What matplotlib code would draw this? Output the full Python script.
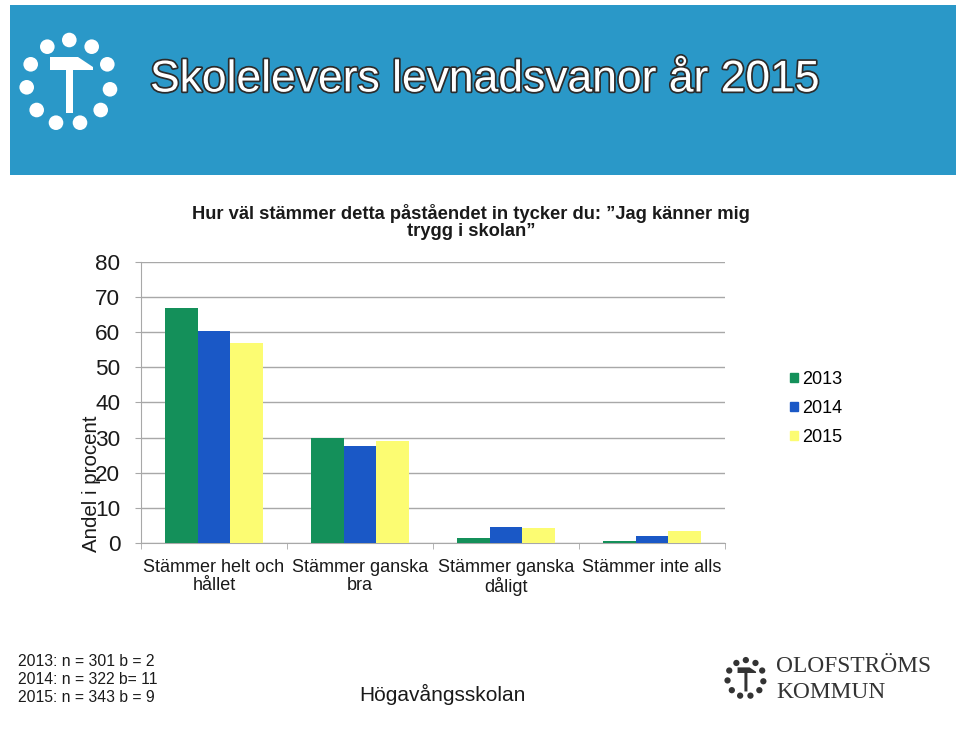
import matplotlib
matplotlib.use('Agg')
from matplotlib import pyplot as plt
from matplotlib.patches import Rectangle, Circle, Polygon, Patch
import matplotlib.patheffects as pe
import numpy as np

plt.rcParams['font.family'] = ['Liberation Sans', 'DejaVu Sans']

categories = ['Stämmer helt och\nhållet', 'Stämmer ganska\nbra',
              'Stämmer ganska\ndåligt', 'Stämmer inte alls']
years = ['2013', '2014', '2015']
y2013 = [66.8, 29.9, 1.6, 0.7]
y2014 = [60.3, 27.5, 4.6, 2.2]
y2015 = [56.8, 29.2, 4.3, 3.4]
y_ticks = [0, 10, 20, 30, 40, 50, 60, 70, 80]
notes = ['2013: n = 301 b = 2', '2014: n = 322 b= 11', '2015: n = 343 b = 9']

bar_colors = ['#14905a', '#1a58c6', '#fcfc72']
grid_col = '#a8a8a8'

# logo: dot offsets and hammer outline relative to centre (header scale)
logo_dots = [(0.8, -44), (-21.2, -37.3), (23.2, -37.3), (-37.8, -19.7), (38.8, -19.7),
             (-41.8, 3.3), (41.5, 5.3), (-31.8, 26), (32.2, 26), (-12.5, 38.7), (11.5, 38.7)]
hammer = [(-18.5, -27), (9.5, -27), (24.5, -17), (24.5, -14), (4.5, -14), (4.5, 29),
          (-2.5, 29), (-2.5, -14), (-18.5, -14)]


def draw_logo(ax, cx, cy, s, col):
    for dx, dy in logo_dots:
        ax.add_patch(Circle((cx + dx * s, cy + dy * s), 7.3 * s, color=col, lw=0))
    ax.add_patch(Polygon([(cx + dx * s, cy + dy * s) for dx, dy in hammer],
                         closed=True, color=col, lw=0))


fig = plt.figure(figsize=(9.6, 7.47), dpi=100)

# overlay in pixel coords for page decoration
bg = fig.add_axes([0, 0, 1, 1])
bg.set_xlim(0, 960)
bg.set_ylim(747, 0)
bg.axis('off')
bg.add_patch(Rectangle((10, 5), 946, 170, color='#2a98c8', lw=0))
draw_logo(bg, 68.5, 84, 1.0, 'white')
bg.text(150, 80, 'Skolelevers levnadsvanor år 2015', fontsize=32, color='white',
        ha='left', va='center',
        path_effects=[pe.withStroke(linewidth=2.5, foreground='#2b2b2b')])

bg.text(471, 222, 'Hur väl stämmer detta påståendet in tycker du: ”Jag känner mig\ntrygg i skolan”',
        fontsize=13.2, fontweight='bold', ha='center', va='center', color='#1a1a1a',
        linespacing=1.05)

for i, t in enumerate(notes):
    bg.text(18, 661 + i * 18, t, fontsize=11.3, ha='left', va='center', color='#1a1a1a')
bg.text(442, 694, 'Högavångsskolan', fontsize=15, ha='center', va='center', color='#1a1a1a')
draw_logo(bg, 745.5, 679, 0.43, '#333333')
bg.text(776, 666, 'OLOFSTRÖMS', fontsize=16.8, family='Liberation Serif',
        ha='left', va='center', color='#333333')
bg.text(776, 692, 'KOMMUN', fontsize=16.8, family='Liberation Serif',
        ha='left', va='center', color='#333333')

# chart
ax = fig.add_axes([141 / 960, 1 - 543.3 / 747, 584 / 960, 281.6 / 747])
ax.patch.set_alpha(0)
x = np.arange(len(categories))
w = 1 / 4.5
for k, (vals, col) in enumerate(zip([y2013, y2014, y2015], bar_colors)):
    ax.bar(x + (k - 1) * w, vals, w, color=col, label=years[k], zorder=3)

ax.set_xlim(-0.5, len(categories) - 0.5)
ax.set_ylim(0, 80)
ax.set_yticks(y_ticks)
ax.tick_params(axis='y', labelsize=16.2, length=4.3, color=grid_col, pad=10.5,
               labelcolor='#1a1a1a')
ax.yaxis.grid(True, color=grid_col, lw=1, zorder=0)
ax.set_xticks(x)
ax.set_xticklabels(categories, fontsize=13, linespacing=1.1)
ax.tick_params(axis='x', which='major', length=0, pad=11, labelcolor='#1a1a1a')
ax.set_xticks(np.arange(-0.5, len(categories)), minor=True)
ax.tick_params(axis='x', which='minor', length=4.3, color=grid_col)
for sp in ['top', 'right']:
    ax.spines[sp].set_visible(False)
for sp in ['left', 'bottom']:
    ax.spines[sp].set_color(grid_col)
ax.set_ylabel('Andel i procent', fontsize=14.8, color='#1a1a1a')
ax.yaxis.set_label_coords(-0.069, 0.212)

handles = [Patch(color=c) for c in bar_colors]
fig.legend(handles, years, loc='upper left', bbox_to_anchor=(790 / 960, 1 - 371 / 747),
           frameon=False, fontsize=13, handlelength=0.45, handleheight=0.45,
           handletextpad=0.2, labelspacing=0.66, borderpad=0, borderaxespad=0)

fig.savefig('out.png', dpi=100)
